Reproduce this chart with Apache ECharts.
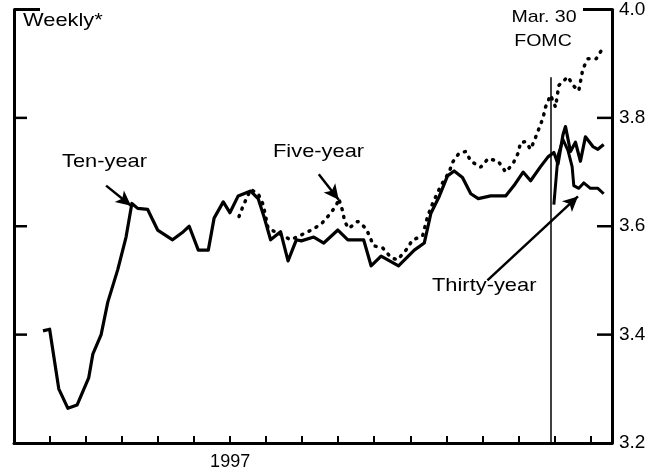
<!DOCTYPE html>
<html>
<head>
<meta charset="utf-8">
<script src="https://cdn.jsdelivr.net/npm/echarts@6/dist/echarts.min.js"></script>
<style>
  html, body { margin: 0; padding: 0; background: #fff; }
  #chart { width: 657px; height: 473px; }
</style>
</head>
<body>
<div id="chart"></div>
<script>
// x positions are in weeks from the first ten-year observation
const tenWeeks = [0, 0.8, 1.9, 3.0, 4.1, 5.5, 6.0, 7.0, 7.8, 9.0, 10.0, 10.7, 11.4, 12.6, 13.8, 15.6, 16.9, 17.6, 18.7, 19.9,
  20.6, 21.7, 22.5, 23.5, 25.0, 25.9, 26.6, 27.4, 28.6, 29.5, 30.5, 31.1, 32.6, 33.8, 35.5, 36.7, 38.6, 39.5, 40.7, 42.8,
  44.7, 45.9, 46.7, 47.7, 48.7, 49.5, 50.5, 51.5, 52.4, 53.9, 55.7, 56.7, 57.8, 58.7, 59.9, 60.8, 61.5, 62.0, 62.6, 62.9,
  63.5, 64.1, 64.7, 65.3, 66.2, 66.8, 67.5];
const tenYield = [3.407, 3.41, 3.30, 3.264, 3.27, 3.32, 3.364, 3.40, 3.46, 3.52, 3.58, 3.642, 3.633, 3.631, 3.593, 3.575, 3.59, 3.60, 3.556, 3.556,
  3.615, 3.645, 3.625, 3.656, 3.665, 3.651, 3.618, 3.575, 3.59, 3.536, 3.575, 3.573, 3.58, 3.569, 3.593, 3.575, 3.575, 3.527, 3.545, 3.527,
  3.556, 3.569, 3.624, 3.655, 3.693, 3.702, 3.69, 3.66, 3.651, 3.656, 3.656, 3.675, 3.70, 3.684, 3.71, 3.728, 3.736, 3.715, 3.769, 3.784,
  3.738, 3.755, 3.72, 3.765, 3.747, 3.742, 3.751];

const fiveWeeks = [23.6, 24.1, 25.0, 25.9, 26.5, 27.1, 28.6, 29.8, 31.1, 32.3, 33.5, 34.4, 35.3, 35.6, 36.1, 36.3, 36.8, 37.9, 38.9, 39.8,
  40.9, 41.9, 42.7, 43.7, 44.5, 45.7, 46.3, 46.9, 47.9, 48.9, 49.3, 50.1, 50.9, 51.5, 52.7, 53.6, 54.8, 55.7, 56.6, 57.2,
  57.5, 58.1, 58.7, 59.2, 59.7, 60.2, 60.5, 61.1, 61.7, 62.1, 63.2, 63.8, 64.5, 65.0, 65.6, 66.6, 67.4];
const fiveYield = [3.618, 3.638, 3.668, 3.66, 3.64, 3.596, 3.585, 3.575, 3.584, 3.593, 3.604, 3.62, 3.638, 3.651, 3.627, 3.609, 3.596, 3.609, 3.596, 3.564,
  3.56, 3.542, 3.538, 3.556, 3.575, 3.582, 3.618, 3.642, 3.675, 3.70, 3.718, 3.735, 3.738, 3.72, 3.709, 3.725, 3.72, 3.70, 3.716, 3.735,
  3.755, 3.756, 3.742, 3.76, 3.78, 3.80, 3.82, 3.842, 3.82, 3.86, 3.876, 3.86, 3.85, 3.891, 3.909, 3.909, 3.929];

const thirtyWeeks = [61.5, 62.0, 62.6, 63.2, 63.7, 63.9, 64.5, 65.1, 65.9, 66.8, 67.5];
const thirtyYield = [3.64, 3.73, 3.76, 3.74, 3.71, 3.675, 3.67, 3.68, 3.67, 3.67, 3.66];

const yTicks = [3.2, 3.4, 3.6, 3.8, 4.0];
const yearLabel = '1997';
const yearMonth = 6;     // month tick under which the year label sits
const fomcWeek = 61.1;   // Mar. 30 FOMC meeting

const weekMin = -3.49;
const weekMax = 68.5;

const font = 'Liberation Sans, Arial, Helvetica, sans-serif';
const ink = '#000';
const gridBox = { left: 14, right: 45, top: 4, bottom: 30 };

const zip = (xs, ys) => xs.map((x, i) => [x, ys[i]]);

const chart = echarts.init(document.getElementById('chart'));

const arrowHead = { symbol: 'arrow', symbolSize: [11, 15] };
const yMin = yTicks[0];
const yMax = yTicks[yTicks.length - 1];

const labels = [
  { type: 'text', x: 23, y: 21, scaleX: 1.15, style: { text: 'Weekly*', fill: ink, font: `19px ${font}`, textVerticalAlign: 'middle' } },
  { type: 'text', x: 544, y: 17, scaleX: 1.15, style: { text: 'Mar. 30', fill: ink, font: `17px ${font}`, textAlign: 'center', textVerticalAlign: 'middle' } },
  { type: 'text', x: 543, y: 41, scaleX: 1.15, style: { text: 'FOMC', fill: ink, font: `17px ${font}`, textAlign: 'center', textVerticalAlign: 'middle' } },
  { type: 'text', x: 62, y: 162, scaleX: 1.15, style: { text: 'Ten-year', fill: ink, font: `19px ${font}`, textVerticalAlign: 'middle' } },
  { type: 'text', x: 273, y: 152, scaleX: 1.15, style: { text: 'Five-year', fill: ink, font: `19px ${font}`, textVerticalAlign: 'middle' } },
  { type: 'text', x: 432, y: 286, scaleX: 1.15, style: { text: 'Thirty-year', fill: ink, font: `19px ${font}`, textVerticalAlign: 'middle' } }
];

const option = {
  animation: false,
  backgroundColor: '#fff',
  grid: gridBox,
  xAxis: [
    {
      // monthly tick marks
      type: 'value',
      min: 0,
      max: 16.6,
      interval: 1,
      position: 'bottom',
      axisLine: { onZero: false, lineStyle: { color: ink, width: 3 } },
      axisTick: { inside: true, length: 7, lineStyle: { color: ink, width: 2 } },
      splitLine: { show: false },
      axisLabel: {
        margin: 10,
        color: ink,
        fontFamily: font,
        fontSize: 18,
        formatter: v => (v === yearMonth ? yearLabel : '')
      }
    },
    {
      // weekly data axis, same span
      type: 'value',
      min: weekMin,
      max: weekMax,
      position: 'top',
      show: false,
      axisLine: { onZero: false }
    }
  ],
  yAxis: [
    {
      type: 'value',
      position: 'right',
      min: yMin,
      max: yMax,
      interval: 0.2,
      axisLine: { show: true, onZero: false, lineStyle: { color: ink, width: 3 } },
      axisTick: { show: false },
      splitLine: { show: false },
      axisLabel: {
        margin: 7,
        color: ink,
        fontFamily: font,
        fontSize: 19,
        formatter: v => v.toFixed(1)
      }
    },
    {
      type: 'value',
      position: 'left',
      min: yMin,
      max: yMax,
      interval: 0.2,
      axisLine: { show: true, onZero: false, lineStyle: { color: ink, width: 3 } },
      axisTick: { show: false },
      splitLine: { show: false },
      axisLabel: { show: false }
    }
  ],
  series: [
    {
      name: 'Ten-year',
      type: 'line',
      xAxisIndex: 1,
      yAxisIndex: 0,
      data: zip(tenWeeks, tenYield),
      showSymbol: false,
      lineStyle: { color: ink, width: 3.2, join: 'round' },
      z: 3
    },
    {
      name: 'Five-year',
      type: 'line',
      xAxisIndex: 1,
      yAxisIndex: 0,
      data: zip(fiveWeeks, fiveYield),
      showSymbol: false,
      lineStyle: { color: ink, width: 3.5, type: [1, 7], cap: 'round' },
      z: 2
    },
    {
      name: 'Thirty-year',
      type: 'line',
      xAxisIndex: 1,
      yAxisIndex: 0,
      data: zip(thirtyWeeks, thirtyYield),
      showSymbol: false,
      lineStyle: { color: ink, width: 3, join: 'round' },
      z: 3
    },
    {
      // annotations: FOMC line and label arrows
      type: 'line',
      xAxisIndex: 1,
      yAxisIndex: 0,
      data: [],
      silent: true,
      clip: false,
      z: 5,
      markLine: {
        silent: true,
        symbol: 'none',
        label: { show: false },
        lineStyle: { color: ink, type: 'solid', width: 1.5 },
        data: [
          [{ coord: [fomcWeek, 3.2] }, { coord: [fomcWeek, 3.875] }],
          [{ coord: [7.6, 3.675], symbol: 'none', lineStyle: { width: 2.5 } }, Object.assign({ coord: [10.6, 3.638] }, arrowHead)],
          [{ coord: [33.2, 3.696], symbol: 'none', lineStyle: { width: 2.5 } }, Object.assign({ coord: [35.6, 3.649] }, arrowHead)],
          [{ coord: [53.5, 3.50], symbol: 'none', lineStyle: { width: 2.5 } }, Object.assign({ coord: [64.4, 3.655] }, arrowHead)]
        ]
      }
    }
  ],
  graphic: labels
};

chart.setOption(option);

// inward tick marks on both value axes; y from the chart's own scale
const W = chart.getWidth();
const H = chart.getHeight();
const xL = gridBox.left;
const xR = W - gridBox.right;
const yPix = v => {
  let p = NaN;
  try { p = chart.convertToPixel({ yAxisIndex: 0 }, v); } catch (e) { p = NaN; }
  if (typeof p !== 'number' || !isFinite(p)) {
    const top = gridBox.top;
    const bottom = H - gridBox.bottom;
    p = bottom - (v - yMin) / (yMax - yMin) * (bottom - top);
  }
  return p;
};
const ticks = [];
yTicks.slice(1).forEach(v => {
  const isTop = v === yMax;
  const y = yPix(v);
  const lw = isTop ? 3 : 2.5;
  ticks.push({ type: 'line', z: 100, silent: true, shape: { x1: xL, y1: y, x2: xL + (isTop ? 26 : 13), y2: y }, style: { stroke: ink, lineWidth: lw } });
  ticks.push({ type: 'line', z: 100, silent: true, shape: { x1: xR, y1: y, x2: xR - (isTop ? 29 : 15), y2: y }, style: { stroke: ink, lineWidth: lw } });
});
chart.setOption({ graphic: labels.concat(ticks) });
</script>
</body>
</html>
